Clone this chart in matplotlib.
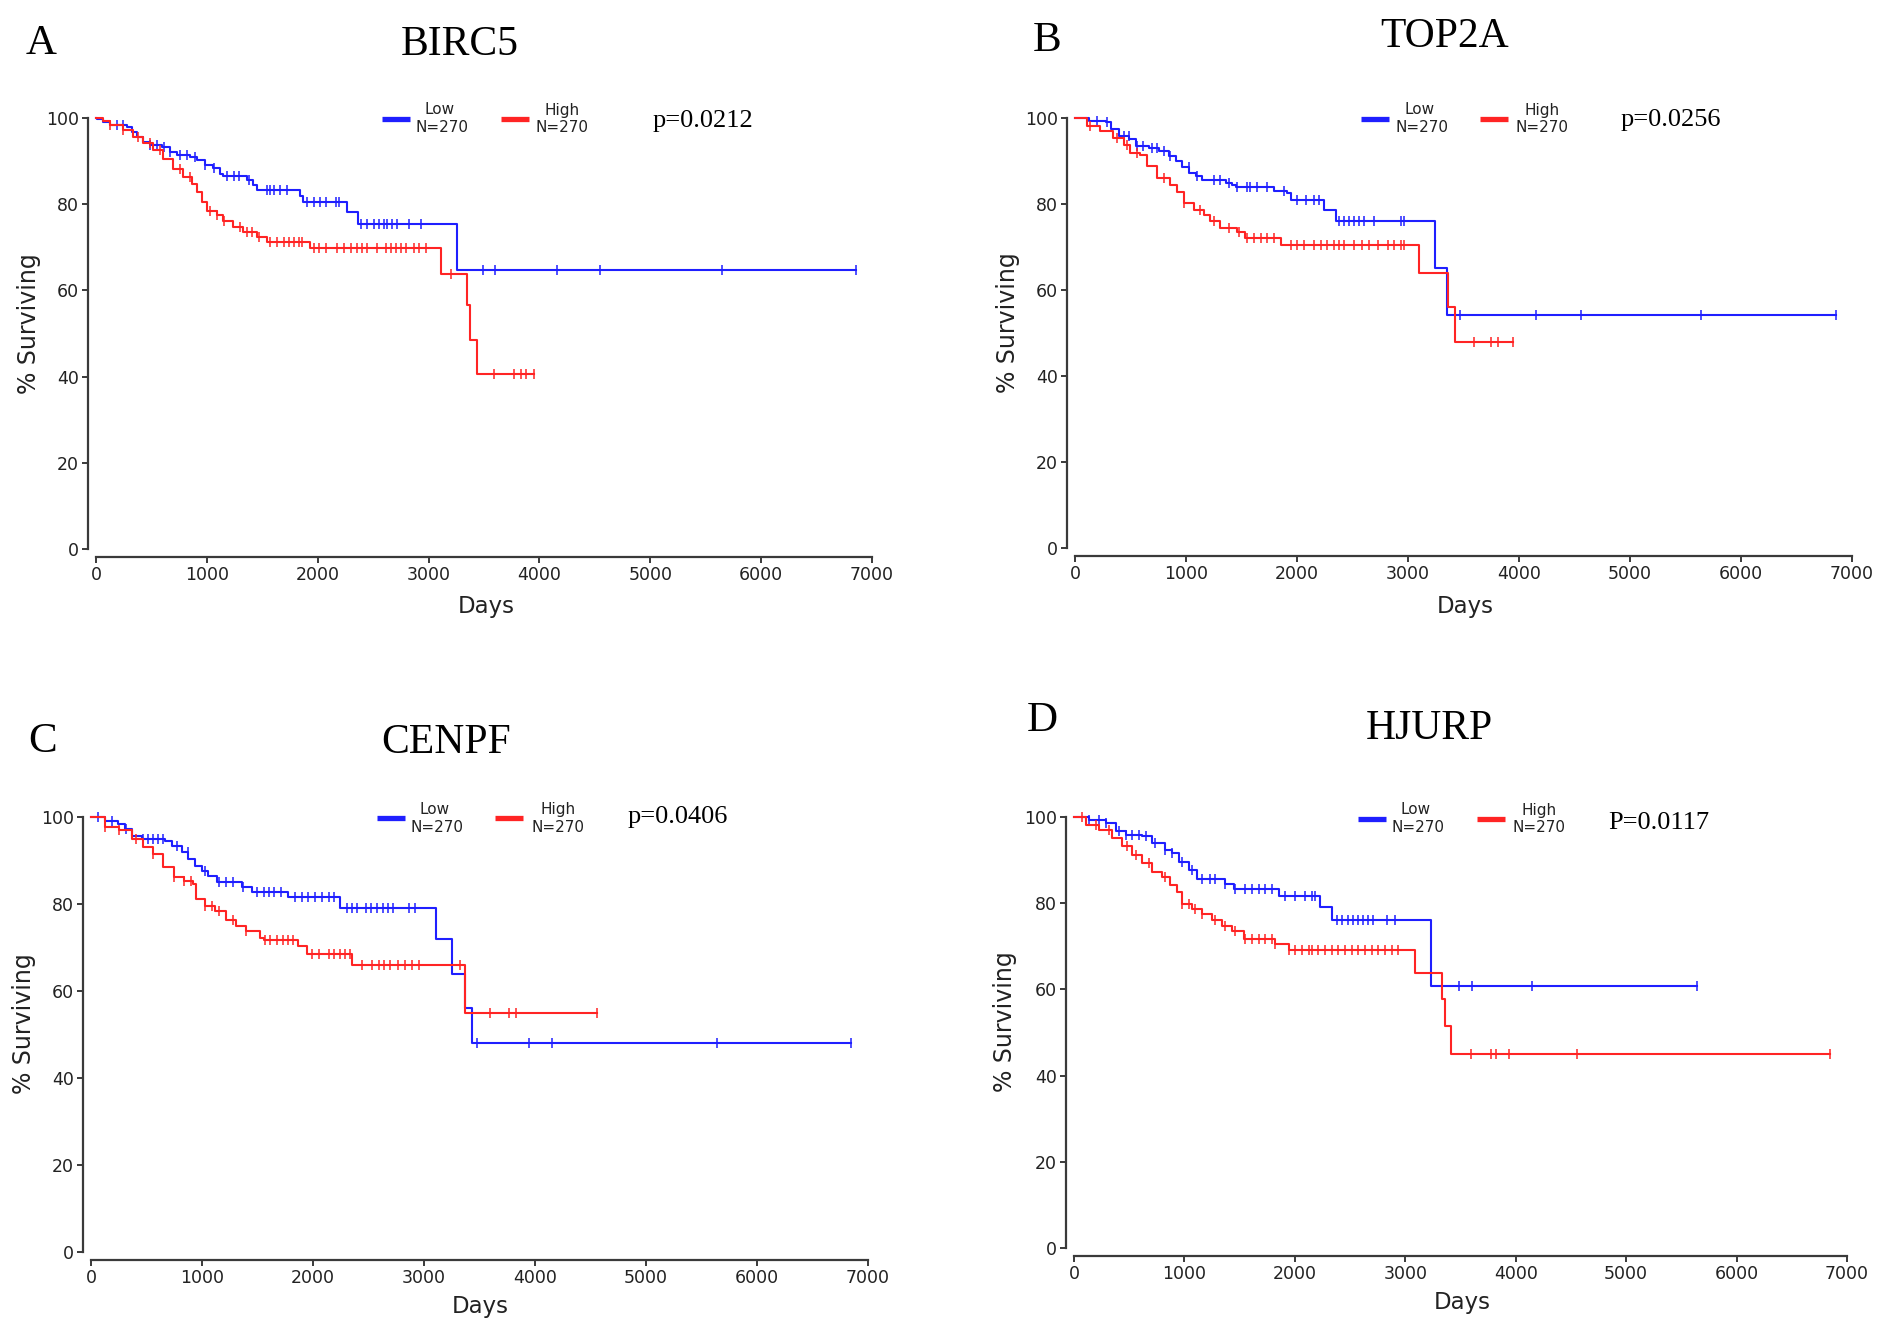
import numpy as np
import matplotlib.pyplot as plt
from matplotlib.lines import Line2D

W, H = 1890, 1337
BLUE = '#1f1fff'
RED = '#ff2424'

# Kaplan-Meier curves (days, % surviving) ----------------------------
# A: BIRC5
a_low_t = [0, 6, 66, 127, 277, 322, 367, 427, 487, 592, 667, 728, 848, 908, 983, 1058, 1118, 1148,
           1359, 1419, 1449, 1840, 1871, 2261, 2366, 3255, 6860]
a_low_s = [100, 99.8, 99.1, 98.4, 98.0, 96.8, 95.6, 94.5, 93.7, 93.3, 92.1, 91.4, 91.0, 90.2, 89.1, 88.3,
           87.1, 86.5, 85.6, 84.4, 83.4, 81.8, 80.6, 78.3, 75.5, 64.7, 64.7]
a_low_c = [187, 247, 488, 549, 609, 669, 760, 820, 895, 986, 1061, 1181, 1242, 1287, 1377, 1543,
           1573, 1603, 1664, 1724, 1905, 1965, 2025, 2071, 2161, 2191, 2387, 2447, 2508, 2553, 2598,
           2628, 2673, 2719, 2824, 2930, 3490, 3600, 4160, 4550, 5650, 6860]
a_high_t = [0, 60, 126, 246, 337, 427, 517, 607, 697, 787, 863, 908, 953, 998, 1088, 1148, 1238,
            1328, 1449, 1539, 1930, 3110, 3351, 3370, 3433, 3954]
a_high_s = [100, 99.2, 98.3, 97.1, 95.6, 94.1, 92.5, 90.6, 88.2, 86.3, 84.7, 82.8, 80.5, 78.5, 77.4,
            76.2, 74.7, 73.5, 72.4, 71.2, 69.8, 63.7, 56.6, 48.4, 40.5, 40.5]
a_high_c = [127, 247, 383, 488, 579, 759, 850, 1031, 1091, 1151, 1302, 1362, 1407, 1468, 1573, 1634,
            1694, 1739, 1784, 1830, 1860, 1965, 2010, 2071, 2176, 2236, 2297, 2357, 2402, 2447, 2538,
            2613, 2658, 2704, 2749, 2794, 2869, 2914, 2975, 3201, 3593, 3773, 3834, 3879, 3954]

# B: TOP2A
b_low_t = [0, 126, 276, 321, 396, 486, 546, 666, 756, 846, 906, 966, 1026, 1086, 1146, 1356, 1416,
           1446, 1792, 1913, 1943, 2244, 2349, 3247, 3352, 6860]
b_low_s = [100, 99.4, 99.0, 97.4, 95.9, 95.1, 93.5, 93.1, 92.3, 91.2, 90.0, 88.5, 87.3, 86.5, 85.5,
           85.0, 84.4, 84.0, 83.1, 82.6, 81.0, 78.7, 76.1, 65.1, 54.3, 54.3]
b_low_c = [196, 286, 437, 482, 557, 617, 693, 738, 798, 858, 1024, 1099, 1250, 1310, 1385, 1461,
           1551, 1581, 1642, 1732, 1883, 2003, 2078, 2154, 2199, 2379, 2425, 2470, 2515, 2560, 2605,
           2696, 2937, 2967, 3470, 4150, 4560, 5640, 6860]
b_high_t = [0, 105, 226, 346, 437, 497, 587, 648, 738, 858, 919, 979, 1069, 1160, 1220, 1310,
            1461, 1536, 1852, 3102, 3364, 3425, 3946]
b_high_s = [100, 98.1, 96.9, 95.3, 93.8, 91.9, 91.3, 88.8, 86.0, 84.5, 82.9, 80.2, 78.7, 77.5, 76.0, 74.4,
            73.6, 72.1, 70.4, 64.0, 56.0, 47.9, 47.9]
b_high_c = [136, 377, 467, 557, 798, 979, 1130, 1250, 1386, 1476, 1551, 1611, 1672, 1732, 1792, 1943,
            2003, 2063, 2154, 2214, 2274, 2334, 2379, 2425, 2515, 2590, 2651, 2726, 2817, 2877, 2937,
            2967, 3593, 3750, 3810, 3946]

# C: CENPF
c_low_t = [0, 126, 246, 306, 366, 456, 667, 727, 817, 877, 937, 997, 1057, 1132, 1357, 1447,
           1778, 2240, 3110, 3250, 3365, 3428, 6850]
c_low_s = [100, 99.1, 98.3, 97.2, 95.7, 94.9, 94.5, 93.4, 91.9, 90.4, 88.8, 87.7, 86.5, 85.0, 83.8,
           82.8, 81.5, 79.1, 72.0, 63.9, 56.0, 48.0, 48.0]
c_low_c = [62, 187, 311, 467, 513, 560, 607, 653, 778, 871, 1026, 1151, 1213, 1275, 1369, 1493, 1555,
           1602, 1648, 1711, 1835, 1897, 1959, 2022, 2084, 2146, 2193, 2302, 2348, 2395, 2473, 2519,
           2581, 2628, 2675, 2721, 2861, 2923, 3480, 3950, 4150, 5640, 6850]
c_high_t = [0, 124, 249, 373, 467, 560, 653, 747, 840, 918, 949, 1026, 1120, 1213, 1306, 1400,
            1524, 1555, 1866, 1944, 2348, 3365, 4557]
c_high_s = [100, 97.7, 96.9, 95.0, 93.1, 91.5, 88.4, 86.1, 85.3, 84.6, 81.1, 79.5, 78.4, 76.4, 74.9, 73.7,
            72.2, 71.8, 70.3, 68.5, 65.9, 55.0, 55.0]
c_high_c = [124, 249, 404, 560, 747, 840, 902, 1026, 1089, 1151, 1275, 1400, 1571, 1617, 1680, 1726,
            1773, 1820, 1991, 2053, 2146, 2193, 2240, 2286, 2333, 2442, 2535, 2597, 2644, 2690, 2768,
            2830, 2892, 2955, 3328, 3598, 3769, 3832, 4557]

# D: HJURP
d_low_t = [0, 136, 286, 377, 467, 617, 708, 828, 889, 949, 1039, 1114, 1370, 1446, 1852, 2229,
           2340, 3232, 5640]
d_low_s = [100, 99.4, 98.6, 96.7, 95.9, 95.6, 93.9, 92.4, 91.6, 89.6, 87.7, 85.5, 84.4, 83.4, 81.6, 79.1,
           76.0, 60.7, 60.7]
d_low_c = [136, 226, 286, 407, 467, 527, 587, 648, 738, 828, 889, 979, 1069, 1160, 1235, 1280, 1370,
           1461, 1551, 1611, 1672, 1732, 1792, 1913, 2003, 2093, 2154, 2184, 2379, 2425, 2485, 2530,
           2575, 2620, 2666, 2711, 2831, 2907, 3490, 3600, 4150, 5640]
d_high_t = [0, 105, 226, 346, 437, 527, 617, 708, 798, 873, 934, 979, 1069, 1160, 1250, 1340,
            1431, 1536, 1822, 1943, 3087, 3334, 3358, 3410, 6850]
d_high_s = [100, 98.2, 97.0, 95.1, 93.2, 91.2, 89.3, 87.3, 86.1, 84.2, 82.6, 79.9, 78.7, 77.5, 76.0, 74.8,
            73.5, 71.7, 70.6, 69.2, 63.7, 57.7, 51.5, 45.1, 45.1]
d_high_c = [75, 196, 316, 482, 557, 678, 828, 979, 1039, 1099, 1160, 1280, 1370, 1461, 1551, 1611,
            1672, 1732, 1792, 1822, 1943, 2003, 2063, 2124, 2154, 2214, 2274, 2334, 2395, 2455, 2515,
            2575, 2636, 2696, 2756, 2816, 2877, 2937, 3598, 3778, 3822, 3942, 4553, 6850]

letters = ['A', 'B', 'C', 'D']
genes = ['BIRC5', 'TOP2A', 'CENPF', 'HJURP']
pvals = ['p=0.0212', 'p=0.0256', 'p=0.0406', 'P=0.0117']
n_low, n_high = 270, 270

curves = [
    (a_low_t, a_low_s, a_low_c, a_high_t, a_high_s, a_high_c),
    (b_low_t, b_low_s, b_low_c, b_high_t, b_high_s, b_high_c),
    (c_low_t, c_low_s, c_low_c, c_high_t, c_high_s, c_high_c),
    (d_low_t, d_low_s, d_low_c, d_high_t, d_high_s, d_high_c),
]

# Layout in pixels -------------------------------------------------------
# plot box (x at day 0, x at day 7000, y at 100 %, y at 0 %)
boxes = [(96, 872, 118, 549), (1075, 1852, 118, 548),
         (91, 868, 817, 1252), (1074, 1847, 817, 1248)]
letter_xy = [(41, 44), (1047, 41), (43, 742), (1042, 721)]
title_xy = [(460, 45), (1445, 37), (446, 743), (1429, 729)]
p_xy = [(703, 121), (1671, 120), (678, 817), (1659, 823)]
leg_x = [(382, 440, 501, 562), (1361, 1420, 1480, 1542),
         (377, 435, 495, 558), (1358, 1416, 1477, 1539)]
leg_y = [119, 119, 818, 819]
days_xy = [(486, 607), (1465, 606), (480, 1307), (1462, 1302)]
ylab_xy = [(29, 324), (1008, 323), (24, 1024), (1005, 1022)]

fig = plt.figure(figsize=(W / 100, H / 100), dpi=100)
serif = 'Liberation Serif'
sans = 'DejaVu Sans'


def ftext(x, y, s, **kw):
    fig.text(x / W, 1 - y / H, s, ha='center', va='center', **kw)


def km(ax, t, s, cens, color):
    t = np.asarray(t)
    s = np.asarray(s)
    ax.step(t, s, where='post', color=color, lw=1.5, clip_on=False)
    cens = np.asarray(cens)
    idx = np.searchsorted(t, cens, side='right') - 1
    ax.plot(cens, s[idx], ls='none', marker='|', ms=6.5, mew=1.1,
            color=color, clip_on=False)


for i in range(4):
    x0, x1, ytop, y0 = boxes[i]
    ax = fig.add_axes([x0 / W, 1 - y0 / H, (x1 - x0) / W, (y0 - ytop) / H])
    lt, ls_, lc, ht, hs, hc = curves[i]
    km(ax, lt, ls_, lc, BLUE)
    km(ax, ht, hs, hc, RED)
    ax.set_xlim(0, 7000)
    ax.set_ylim(0, 100)
    ax.set_xticks(range(0, 7001, 1000))
    ax.set_yticks(range(0, 101, 20))
    for side in ['top', 'right']:
        ax.spines[side].set_visible(False)
    ax.spines['left'].set_position(('outward', 6))
    ax.spines['bottom'].set_position(('outward', 6))
    ax.spines['left'].set_bounds(0, 100)
    ax.spines['bottom'].set_bounds(0, 7000)
    for side in ['left', 'bottom']:
        ax.spines[side].set_color('#3a3a3a')
        ax.spines[side].set_linewidth(1.6)
    ax.tick_params(direction='out', length=4.5, width=1.4, color='#3a3a3a',
                   labelsize=12.5, labelcolor='#222222', pad=2)

    ftext(*letter_xy[i], letters[i], family=serif, fontsize=31)
    ftext(*title_xy[i], genes[i], family=serif, fontsize=30)
    ftext(*p_xy[i], pvals[i], family=serif, fontsize=19)
    ftext(*days_xy[i], 'Days', family=sans, fontsize=16.5, color='#222222')
    ftext(*ylab_xy[i], '% Surviving', family=sans, fontsize=17,
          rotation=90, color='#222222')

    bx, btx, rx, rtx = leg_x[i]
    ly = leg_y[i]
    fig.add_artist(Line2D([bx / W, (bx + 28) / W], [1 - ly / H] * 2,
                          color=BLUE, lw=3.8, solid_capstyle='butt'))
    fig.add_artist(Line2D([rx / W, (rx + 28) / W], [1 - ly / H] * 2,
                          color=RED, lw=3.8, solid_capstyle='butt'))
    ftext(btx, ly - 9, 'Low', family=sans, fontsize=11, color='#222222')
    ftext(btx + 2, ly + 9, 'N={}'.format(n_low), family=sans, fontsize=11, color='#222222')
    ftext(rtx, ly - 9, 'High', family=sans, fontsize=11, color='#222222')
    ftext(rtx, ly + 9, 'N={}'.format(n_high), family=sans, fontsize=11, color='#222222')

fig.savefig('out.png', dpi=100)
